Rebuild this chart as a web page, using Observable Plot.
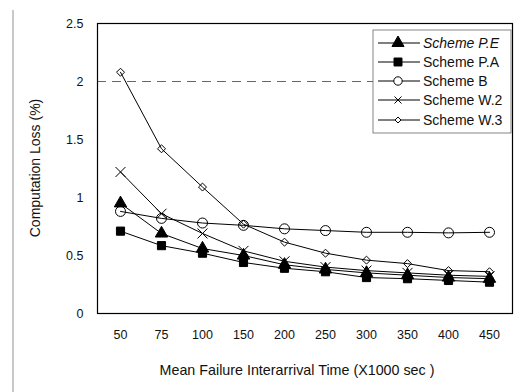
<!DOCTYPE html>
<html>
<head>
<meta charset="utf-8">
<script src="https://cdn.jsdelivr.net/npm/d3@7"></script>
<script src="https://cdn.jsdelivr.net/npm/@observablehq/plot@0.6"></script>
<style>
  html, body { margin: 0; padding: 0; background: #fff; }
  #chart svg { display: block; }
</style>
</head>
<body>
<div id="chart"></div>
<script>
const categories = ["50", "75", "100", "150", "200", "250", "300", "350", "400", "450"];
const seriesNames = ["Scheme P.E", "Scheme P.A", "Scheme B", "Scheme W.2", "Scheme W.3"];
const schemePE = [0.95, 0.69, 0.56, 0.50, 0.42, 0.38, 0.35, 0.33, 0.31, 0.30];
const schemePA = [0.71, 0.585, 0.52, 0.44, 0.39, 0.36, 0.31, 0.30, 0.285, 0.27];
const schemeB  = [0.88, 0.82, 0.78, 0.76, 0.73, 0.715, 0.70, 0.70, 0.695, 0.70];
const schemeW2 = [1.22, 0.86, 0.69, 0.54, 0.45, 0.40, 0.37, 0.35, 0.33, 0.32];
const schemeW3 = [2.08, 1.42, 1.09, 0.77, 0.615, 0.52, 0.46, 0.43, 0.37, 0.36];
const yTicks = [0, 0.5, 1, 1.5, 2, 2.5];
const yLabel = "Computation Loss (%)";
const xLabel = "Mean Failure Interarrival Time (X1000 sec )";

const seriesValues = [schemePE, schemePA, schemeB, schemeW2, schemeW3];
const symbols = ["triangle", "square", "circle", "times", "diamond2"];
const fills = ["black", "black", "none", "none", "none"];
const sizes = [4.6, 4.6, 5, 4.6, 3.6];

const data = [];
seriesNames.forEach((name, i) => {
  categories.forEach((c, j) => data.push({series: name, x: c, y: seriesValues[i][j]}));
});

const font = "'Liberation Sans', Arial, sans-serif";

const marks = [
  Plot.ruleY([2], {stroke: "#555", strokeWidth: 0.9, strokeDasharray: "9,6"}),
  Plot.frame({stroke: "black", strokeWidth: 1.2}),
  Plot.axisY({ticks: yTicks, tickSize: 0, tickPadding: 14, tickFormat: d => String(d), label: null, fontSize: 12.5}),
  Plot.axisX({tickSize: 0, tickPadding: 17, label: null, fontSize: 12.5})
];
seriesNames.forEach((name, i) => {
  const d = data.filter(r => r.series === name);
  marks.push(Plot.line(d, {x: "x", y: "y", stroke: "black", strokeWidth: 1}));
  marks.push(Plot.dot(d, {x: "x", y: "y", symbol: () => symbols[i], r: sizes[i],
    fill: fills[i], stroke: "black", strokeWidth: 1}));
});

const chart = Plot.plot({
  width: 519,
  height: 392,
  marginLeft: 97,
  marginRight: 7,
  marginTop: 23,
  marginBottom: 79,
  style: {fontFamily: font, fontSize: "12px", color: "#111", background: "white"},
  x: {type: "point", domain: categories, padding: 0.46, label: null},
  y: {domain: [0, 2.5], label: null},
  marks
});
document.getElementById("chart").appendChild(chart);

const svg = d3.select(chart);
// axis titles
svg.append("text").attr("transform", "translate(35,168) rotate(-90)")
  .attr("text-anchor", "middle").attr("dy", "0.35em").attr("font-family", font)
  .attr("font-size", 14).attr("fill", "#111").text(yLabel);
svg.append("text").attr("x", 297).attr("y", 370)
  .attr("text-anchor", "middle").attr("dy", "0.35em").attr("font-family", font)
  .attr("font-size", 14.3).attr("fill", "#111").text(xLabel);

// Legend inside plot (top-right)
const lg = svg.append("g").attr("font-family", font).attr("font-size", 14).attr("text-anchor", "start");
lg.append("rect").attr("x", 373).attr("y", 30).attr("width", 138).attr("height", 103)
  .attr("fill", "white").attr("stroke", "#666").attr("stroke-width", 0.8);
const symMap = {triangle: d3.symbolTriangle, square: d3.symbolSquare, circle: d3.symbolCircle, times: d3.symbolTimes, diamond2: d3.symbolDiamond2};
const rowY = [43, 62, 81, 100, 120];
const legendSizes = [4.6, 4.6, 4.2, 4.6, 3.4];
seriesNames.forEach((name, i) => {
  const y = rowY[i];
  lg.append("line").attr("x1", 378).attr("x2", 420).attr("y1", y).attr("y2", y)
    .attr("stroke", "black").attr("stroke-width", 1);
  const r = legendSizes[i];
  const size = symbols[i] === "circle" ? Math.PI * r * r : (symbols[i] === "times" ? r * r * 1.6 : (symbols[i] === "diamond2" ? r * r * 2 : r * r * 3));
  lg.append("path").attr("transform", `translate(398,${y})`)
    .attr("d", d3.symbol(symMap[symbols[i]], size)())
    .attr("fill", fills[i] === "none" ? "white" : fills[i]).attr("stroke", "black").attr("stroke-width", 1);
  lg.append("text").attr("x", 423).attr("y", y).attr("dy", "0.35em").attr("fill", "#111")
    .attr("text-anchor", "start")
    .attr("font-style", i === 0 ? "italic" : "normal").text(name);
});
// scanned page border on the left
svg.append("line").attr("x1", 13).attr("x2", 13).attr("y1", 10).attr("y2", 392)
  .attr("stroke", "#777").attr("stroke-width", 0.8);
</script>
</body>
</html>
